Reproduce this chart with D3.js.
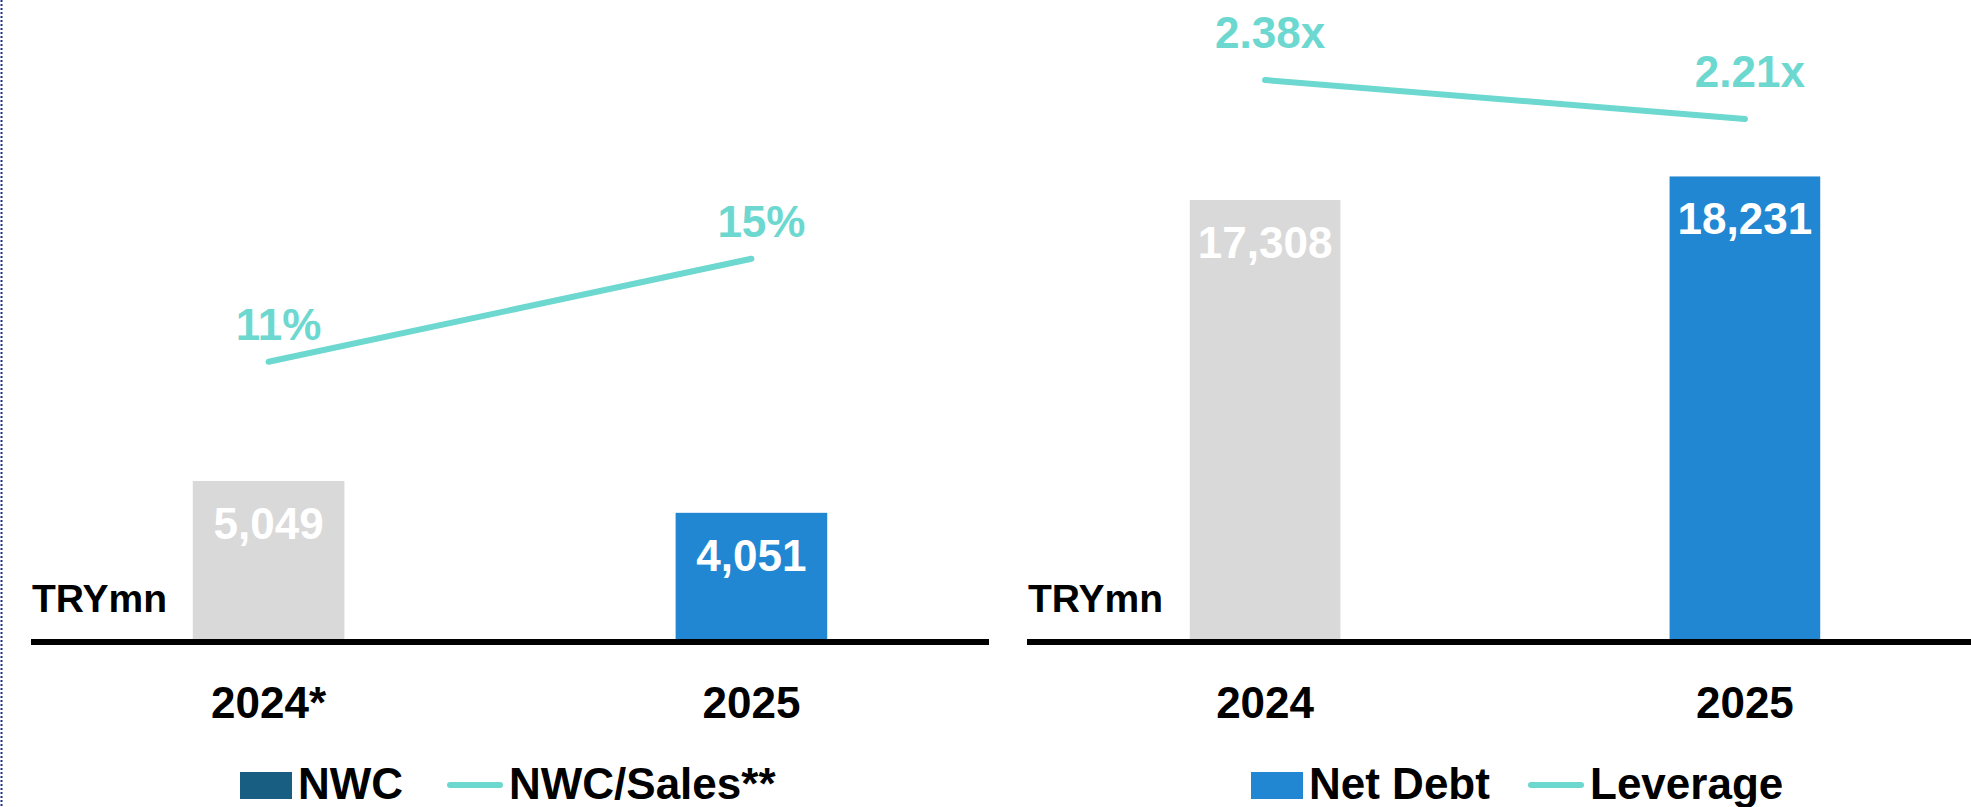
<!DOCTYPE html>
<html>
<head>
<meta charset="utf-8">
<script src="https://cdn.jsdelivr.net/npm/d3@7"></script>
<style>
    body { margin: 0; background: #fff; }
    svg text { font-family: "Liberation Sans", Arial, sans-serif; font-weight: bold; }
</style>
</head>
<body>
<div class="graph"></div>
<script>
    // data
    const nwcYears = ["2024*", "2025"];
    const nwcValues = [5049, 4051];
    const nwcSalesPct = [11, 15];

    const debtYears = ["2024", "2025"];
    const netDebtValues = [17308, 18231];
    const leverageValues = [2.38, 2.21];

    const width = 1971, height = 807;
    const grey = "#d9d9d9", blue = "#2187d3", teal = "#6cd8cf", navy = "#175e82";

    const svg = d3.select(".graph").append("svg")
        .attr("width", width)
        .attr("height", height);

    // dotted frame edge on the left
    svg.append("line")
        .attr("x1", 1.5).attr("x2", 1.5)
        .attr("y1", 0).attr("y2", height)
        .style("stroke", "#1c3488")
        .style("stroke-width", 2)
        .style("stroke-dasharray", "2,2");

    const baseY = 642;

    function drawPanel(p) {
        const g = svg.append("g");

        const x = d3.scaleBand()
            .domain(p.years)
            .range(p.xRange)
            .paddingInner(0.686)
            .paddingOuter(0.333);

        const y = d3.scaleLinear().domain(p.barDomain).range([baseY, baseY - p.barSpan]);
        const yLine = d3.scaleLinear().domain(p.lineDomain).range(p.lineRange);

        const rows = p.years.map(function (yr, i) {
            return {year: yr, value: p.bars[i], ratio: p.line[i], i: i};
        });

        // bars
        g.selectAll("rect.bar")
            .data(rows)
            .enter().append("rect")
            .attr("class", "bar")
            .attr("x", function (d) { return x(d.year); })
            .attr("y", function (d) { return y(d.value); })
            .attr("width", x.bandwidth())
            .attr("height", function (d) { return baseY - y(d.value); })
            .style("fill", function (d) { return d.i === 0 ? grey : blue; });

        g.selectAll("text.val")
            .data(rows)
            .enter().append("text")
            .attr("class", "val")
            .attr("x", function (d) { return x(d.year) + x.bandwidth() / 2; })
            .attr("y", function (d) { return y(d.value) + 58; })
            .attr("text-anchor", "middle")
            .style("font-size", "44px")
            .style("fill", "#fff")
            .text(function (d) { return d3.format(",")(d.value); });

        // axis baseline
        g.append("line")
            .attr("x1", p.axisX[0]).attr("x2", p.axisX[1])
            .attr("y1", baseY).attr("y2", baseY)
            .style("stroke", "#000")
            .style("stroke-width", 6);

        g.append("text")
            .attr("x", p.axisX[0] + 1)
            .attr("y", 612)
            .style("font-size", "39px")
            .text("TRYmn");

        g.selectAll("text.year")
            .data(rows)
            .enter().append("text")
            .attr("class", "year")
            .attr("x", function (d) { return x(d.year) + x.bandwidth() / 2; })
            .attr("y", 718)
            .attr("text-anchor", "middle")
            .style("font-size", "44px")
            .text(function (d) { return d.year; });

        // ratio line
        const line = d3.line()
            .x(function (d) { return x(d.year) + x.bandwidth() / 2; })
            .y(function (d) { return yLine(d.ratio); });

        g.append("path")
            .datum(rows)
            .attr("d", line)
            .style("fill", "none")
            .style("stroke", teal)
            .style("stroke-width", 6)
            .style("stroke-linecap", "round");

        g.selectAll("text.ratio")
            .data(rows)
            .enter().append("text")
            .attr("class", "ratio")
            .attr("x", function (d) { return x(d.year) + x.bandwidth() / 2 + p.labelDx; })
            .attr("y", function (d) { return yLine(d.ratio) + p.labelDy; })
            .attr("text-anchor", "middle")
            .style("font-size", "44px")
            .style("fill", teal)
            .text(function (d) { return p.fmt(d.ratio); });

        // legend
        const lg = g.append("g").attr("transform", "translate(" + p.legendX + ",0)");
        lg.append("rect")
            .attr("x", 0).attr("y", 772)
            .attr("width", 52).attr("height", 27)
            .style("fill", p.legendColor);
        lg.append("text")
            .attr("x", 58).attr("y", 799)
            .style("font-size", "44px")
            .text(p.legendBar);
        const lineX = 58 + p.legendGap;
        lg.append("line")
            .attr("x1", lineX + 3).attr("x2", lineX + 53)
            .attr("y1", 785).attr("y2", 785)
            .style("stroke", teal)
            .style("stroke-width", 6)
            .style("stroke-linecap", "round");
        lg.append("text")
            .attr("x", lineX + 62).attr("y", 799)
            .style("font-size", "44px")
            .text(p.legendLine);
    }

    drawPanel({
        years: nwcYears,
        bars: nwcValues,
        line: nwcSalesPct,
        xRange: [32, 988],
        axisX: [31, 989],
        barDomain: [0, 20000],
        barSpan: 637.8,
        lineDomain: [0, 25],
        lineRange: [645, 1.25],
        labelDx: 10,
        labelDy: -22,
        fmt: function (v) { return v + "%"; },
        legendX: 240,
        legendColor: navy,
        legendBar: "NWC",
        legendLine: "NWC/Sales**",
        legendGap: 149
    });

    drawPanel({
        years: debtYears,
        bars: netDebtValues,
        line: leverageValues,
        xRange: [1030, 1980],
        axisX: [1027, 1971],
        barDomain: [0, 25000],
        barSpan: 638.4,
        lineDomain: [0, 2.7],
        lineRange: [626, 6.6],
        labelDx: 5,
        labelDy: -32,
        fmt: function (v) { return d3.format(".2f")(v) + "x"; },
        legendX: 1251,
        legendColor: blue,
        legendBar: "Net Debt",
        legendLine: "Leverage",
        legendGap: 219
    });
</script>
</body>
</html>
